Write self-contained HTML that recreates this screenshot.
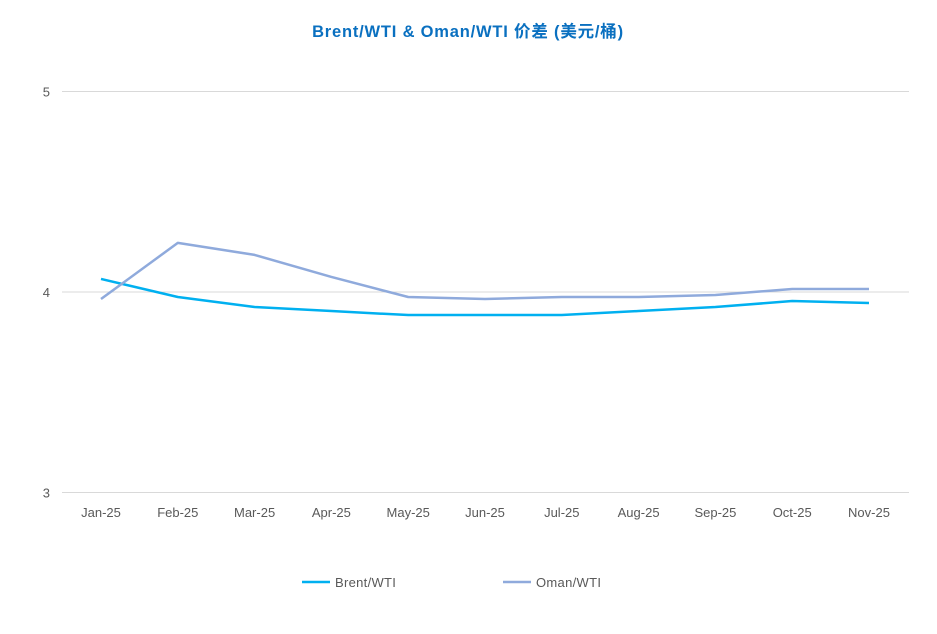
<!DOCTYPE html>
<html><head><meta charset="utf-8"><style>
body{margin:0;background:#fff;}
svg{display:block;font-family:"Liberation Sans","Noto Sans CJK SC",sans-serif;}
</style></head><body>
<svg id="chart" width="937" height="634">
<text x="468" y="37" text-anchor="middle" font-size="16.5" letter-spacing="0.8" font-weight="bold" fill="#0a70c0">Brent/WTI &amp; Oman/WTI 价差 (美元/桶)</text>
<g id="grid"></g><g id="series"></g><g id="legend"></g>
</svg>
<script>
const categories=["Jan-25","Feb-25","Mar-25","Apr-25","May-25","Jun-25","Jul-25","Aug-25","Sep-25","Oct-25","Nov-25"];
const brent=[4.065,3.975,3.925,3.905,3.885,3.885,3.885,3.905,3.925,3.955,3.945];
const oman=[3.965,4.245,4.185,4.075,3.975,3.965,3.975,3.975,3.985,4.015,4.015];
const yTicks=[3,4,5];
const NS="http://www.w3.org/2000/svg";
const X=i=>101+i*76.8;
const Y=v=>292-(v-4)*200.5;
function mk(t,a,p){const e=document.createElementNS(NS,t);for(const k in a)e.setAttribute(k,a[k]);p.appendChild(e);return e;}
const grid=document.getElementById('grid');
yTicks.forEach(v=>{
  const l=mk('line',{x1:62,x2:909,y1:Y(v),y2:Y(v),stroke:'#d9d9d9','stroke-width':1},grid);
  
  
  const t=mk('text',{x:50,y:Y(v)+5,'text-anchor':'end','font-size':13,fill:'#595959'},grid);
  t.textContent=v;
  
  
});
categories.forEach((c,i)=>{
  const t=mk('text',{x:X(i),y:517,'text-anchor':'middle','font-size':13,fill:'#595959'},grid);
  t.textContent=c;
  
  
});
const ser=document.getElementById('series');
[[brent,'#00b0f0','brent-wti-line'],[oman,'#8faadc','oman-wti-line']].forEach(([d,c,n])=>{
  const p=mk('polyline',{points:d.map((v,i)=>X(i)+','+Y(v)).join(' '),fill:'none',stroke:c,'stroke-width':2.5,'stroke-linejoin':'round'},ser);
  
  
});
const lg=document.getElementById('legend');
[[302,'#00b0f0','Brent/WTI'],[503,'#8faadc','Oman/WTI']].forEach(([x,c,n])=>{
  const g=mk('g',{},lg);
  
  
  mk('line',{x1:x,x2:x+28,y1:582,y2:582,stroke:c,'stroke-width':2.5},g);
  const t=mk('text',{x:x+33,y:587,'font-size':13,'letter-spacing':0.3,fill:'#595959'},g);
  t.textContent=n;
});
</script>
</body></html>
